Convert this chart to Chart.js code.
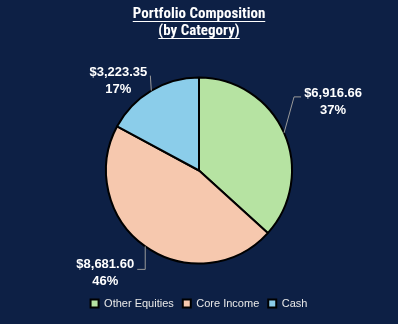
<!DOCTYPE html>
<html>
<head>
<meta charset="utf-8">
<script src="https://cdn.jsdelivr.net/npm/chart.js@4.4.1/dist/chart.umd.min.js"></script>
<style>
  html, body { margin: 0; padding: 0; background: #0d2045; }
  #wrap { width: 398px; height: 324px; position: relative; }
</style>
</head>
<body>
<div id="wrap"><canvas id="chart" width="398" height="324"></canvas></div>
<script>
// data
const categories = ['Other Equities', 'Core Income', 'Cash'];
const values = [6916.66, 8681.60, 3223.35];
const percents = ['37%', '46%', '17%'];
const titleLines = ['Portfolio Composition', '(by Category)'];

const sliceColors = ['#b6e3a2', '#f6c8ae', '#8bcdea'];

// label placement relative to the slice's outer mid point (like manually dragged excel labels)
const labelLayout = [
    { dx: 49, dy: -31, leader: [[10, -36], [17, -36]] },
    { dx: -40, dy: 27, leader: [[0, 23], [-8, 23]] },
    { dx: -33, dy: -10, leader: [[-1, -15]] }
];

const fmtMoney = v => '$' + v.toLocaleString('en-US', { minimumFractionDigits: 2, maximumFractionDigits: 2 });

const titlePlugin = {
    id: 'underlinedTitle',
    afterDraw(chart) {
        const ctx = chart.ctx;
        ctx.save();
        ctx.font = 'bold 15px "Liberation Sans Narrow", "Roboto Condensed", Arial, sans-serif';
        ctx.fillStyle = '#ffffff';
        ctx.strokeStyle = '#ffffff';
        ctx.lineWidth = 1;
        ctx.textAlign = 'center';
        ctx.textBaseline = 'middle';
        const cx = chart.width / 2;
        titleLines.forEach((t, i) => {
            const y = 14 + i * 17;
            ctx.fillText(t, cx, y);
            const w = ctx.measureText(t).width;
            ctx.beginPath();
            ctx.moveTo(cx - w / 2, y + 7.5);
            ctx.lineTo(cx + w / 2, y + 7.5);
            ctx.stroke();
        });
        ctx.restore();
    }
};

const labelPlugin = {
    id: 'outsideLabels',
    afterDatasetsDraw(chart) {
        const ctx = chart.ctx;
        const meta = chart.getDatasetMeta(0);
        ctx.save();
        meta.data.forEach((arc, i) => {
            const p = arc.getProps(['x', 'y', 'startAngle', 'endAngle', 'outerRadius']);
            const mid = (p.startAngle + p.endAngle) / 2;
            const ex = p.x + Math.cos(mid) * p.outerRadius;
            const ey = p.y + Math.sin(mid) * p.outerRadius;
            const lay = labelLayout[i];

            // leader line
            ctx.strokeStyle = '#9a9a9a';
            ctx.lineWidth = 1;
            ctx.beginPath();
            ctx.moveTo(ex, ey);
            lay.leader.forEach(pt => ctx.lineTo(ex + pt[0], ey + pt[1]));
            ctx.stroke();

            // text
            ctx.fillStyle = '#ffffff';
            ctx.font = 'bold 13px "Liberation Sans", Arial, sans-serif';
            ctx.textAlign = 'center';
            ctx.textBaseline = 'middle';
            const lx = ex + lay.dx, ly = ey + lay.dy;
            ctx.fillText(fmtMoney(values[i]), lx, ly - 8.5);
            ctx.fillText(percents[i], lx, ly + 8.5);
        });
        ctx.restore();
    }
};

new Chart(document.getElementById('chart'), {
    type: 'pie',
    data: {
        labels: categories,
        datasets: [{
            data: values,
            backgroundColor: sliceColors,
            borderColor: '#000000',
            borderWidth: 2
        }]
    },
    options: {
        responsive: false,
        animation: false,
        radius: 93,
        layout: { padding: { top: 52, bottom: 5, left: 0, right: 0 } },
        plugins: {
            title: { display: false },
            tooltip: { enabled: false },
            legend: {
                display: true,
                position: 'bottom',
                labels: {
                    color: '#e8e8e8',
                    font: { size: 11, family: '"Liberation Sans", Arial, sans-serif' },
                    boxWidth: 8,
                    boxHeight: 8,
                    padding: 9,
                    generateLabels(chart) {
                        return categories.map((c, i) => ({
                            text: c,
                            fillStyle: sliceColors[i],
                            strokeStyle: '#000000',
                            lineWidth: 2,
                            fontColor: '#e8e8e8',
                            index: i,
                            hidden: false
                        }));
                    }
                }
            }
        }
    },
    plugins: [titlePlugin, labelPlugin]
});
</script>
</body>
</html>
